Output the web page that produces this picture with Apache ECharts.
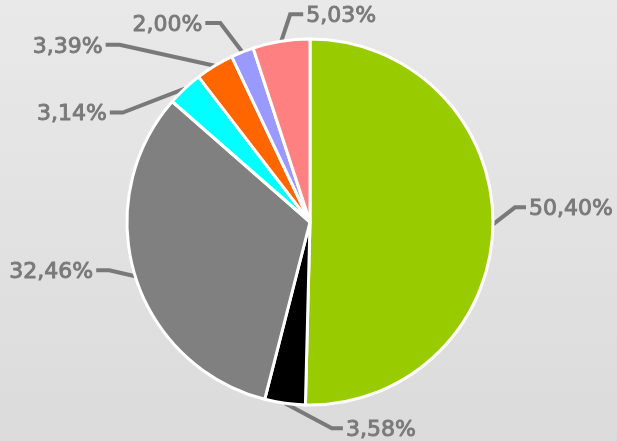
<!DOCTYPE html>
<html>
<head>
<meta charset="utf-8">
<script src="https://cdn.jsdelivr.net/npm/echarts@6/dist/echarts.min.js"></script>
<style>
  html, body { margin: 0; padding: 0; }
  #chart { width: 617px; height: 441px; }
</style>
</head>
<body>
<div id="chart"></div>
<script>
// 份额数据（顺时针，自顶部开始）
var sliceNames = ['A', 'B', 'C', 'D', 'E', 'F', 'G'];
var sliceValues = [50.40, 3.58, 32.46, 3.14, 3.39, 2.00, 5.03];
var sliceColors = ['#99cc00', '#000000', '#808080', '#00ffff', '#ff6600', '#9999ff', '#ff8080'];

// 引导线拐点相对扇区外缘的偏移 [dx, dy, 水平段长度]
var guideOffsets = [
    [22, -17, 11],
    [47, 25, 11],
    [-26, -6, -13],
    [-62, 24, -13],
    [-95, -21, -14],
    [-22, -29, -15],
    [9, -27, 13]
];

var pieCenter = [310, 222];
var pieRadius = 183;
var textGray = '#797979';

var pieData = [];
var total = 0;
for (var i = 0; i < sliceValues.length; i++) {
    total += sliceValues[i];
    pieData.push({
        name: sliceNames[i],
        value: sliceValues[i],
        itemStyle: { color: sliceColors[i] }
    });
}

// 各扇区中线在外缘上的点
function edgePoint(idx) {
    var acc = 0;
    for (var k = 0; k < idx; k++) acc += sliceValues[k];
    var a = (acc + sliceValues[idx] / 2) / total * Math.PI * 2;
    return [pieCenter[0] + pieRadius * Math.sin(a), pieCenter[1] - pieRadius * Math.cos(a)];
}

var chart = echarts.init(document.getElementById('chart'));
chart.setOption({
    backgroundColor: new echarts.graphic.LinearGradient(0, 0, 0, 1, [
        { offset: 0, color: '#e9e9e9' },
        { offset: 1, color: '#dbdbdb' }
    ]),
    animation: false,
    series: [{
        type: 'pie',
        center: pieCenter,
        radius: pieRadius,
        startAngle: 90,
        clockwise: true,
        avoidLabelOverlap: false,
        data: pieData,
        itemStyle: {
            borderColor: '#ffffff',
            borderWidth: 3
        },
        label: {
            show: true,
            formatter: function (p) {
                return p.value.toFixed(2).replace('.', ',') + '%';
            },
            color: textGray,
            fontFamily: 'DejaVu Sans',
            fontWeight: 'normal',
            fontSize: 22,
            textBorderColor: textGray,
            textBorderWidth: 0.9
        },
        labelLine: {
            length: 18,
            length2: 14,
            lineStyle: { color: textGray, width: 4 }
        },
        labelLayout: function (params) {
            var idx = params.dataIndex;
            var off = guideOffsets[idx];
            var p0 = edgePoint(idx);
            var p1 = [p0[0] + off[0], p0[1] + off[1]];
            var p2 = [p1[0] + off[2], p1[1]];
            var right = off[2] > 0;
            return {
                x: p2[0] + (right ? 3 : -3),
                y: p2[1] + 2,
                align: right ? 'left' : 'right',
                verticalAlign: 'middle',
                labelLinePoints: [p0, p1, p2]
            };
        }
    }]
});
</script>
</body>
</html>
